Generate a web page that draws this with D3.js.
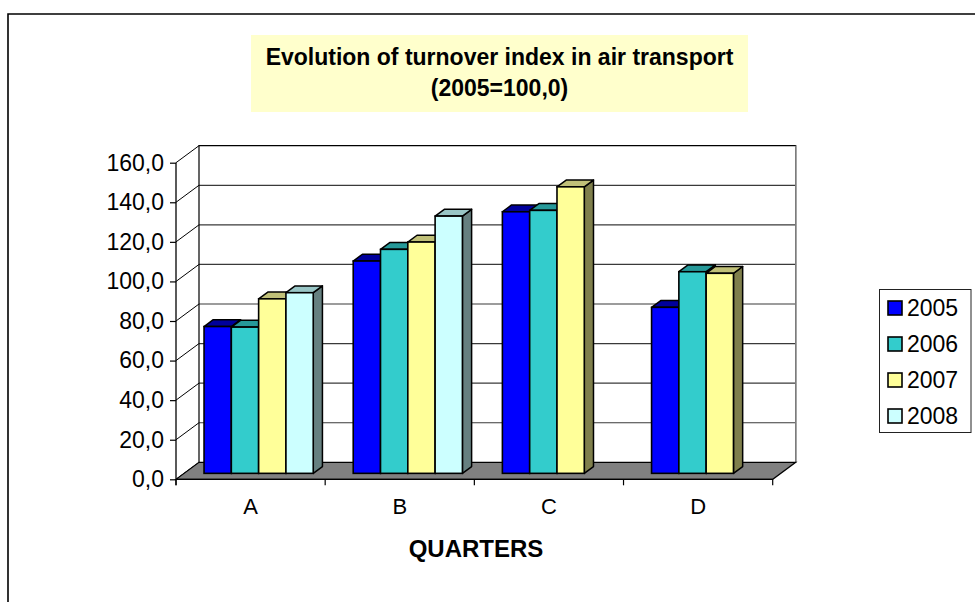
<!DOCTYPE html>
<html>
<head>
<meta charset="utf-8">
<script src="https://cdn.jsdelivr.net/npm/d3@7"></script>
<style>
  html, body { margin: 0; padding: 0; background: #fff; }
  svg { display: block; font-family: "Liberation Sans", Arial, sans-serif; }
</style>
</head>
<body>
<svg id="chart" width="975" height="602"></svg>
<script>
// ---- data ----
const categories = ["A", "B", "C", "D"];
const years = ["2005", "2006", "2007", "2008"];
const v2005 = [74.2, 107.3, 132.2, 83.9];
const v2006 = [73.9, 113.2, 132.9, 101.9];
const v2007 = [88.2, 116.9, 144.8, 101.1];
const v2008 = [91.3, 130.0, null, null];
const yTicks = [0, 20, 40, 60, 80, 100, 120, 140, 160];
const titleLines = ["Evolution of turnover index in air transport", "(2005=100,0)"];
const xTitle = "QUARTERS";

const seriesValues = [v2005, v2006, v2007, v2008];
const colors = {
  "2005": { front: "#0000FF", top: "#00009C", side: "#000080" },
  "2006": { front: "#33CCCC", top: "#269999", side: "#1A6666" },
  "2007": { front: "#FFFF99", top: "#C0C078", side: "#7F7F4C" },
  "2008": { front: "#CCFFFF", top: "#99C6C6", side: "#668080" }
};

const svg = d3.select("#chart");

// ---- geometry ----
const frontLeft = 176, frontRight = 772.7;
const floorY = 479.3, topY = 162.7;
const DX = 23, DY = -17;          // full depth offset
const tBar = 0.35, tDepth = 0.4;  // bar front depth and bar depth (fractions)

const x0 = d3.scaleBand().domain(categories).range([frontLeft, frontRight])
  .paddingInner(0.268).paddingOuter(0.134);
const x1 = d3.scaleBand().domain(years).range([0, x0.bandwidth()]);
const y = d3.scaleLinear().domain([0, 160]).range([floorY, topY]);
const step = x0.step();

// ---- outer border ----
svg.append("path").attr("d", "M8,602 L8,14 L975,14")
  .attr("fill", "none").attr("stroke", "#000").attr("stroke-width", 1.6);

// ---- title ----
svg.append("rect").attr("x", 251).attr("y", 35).attr("width", 497).attr("height", 77)
  .attr("fill", "#FFFFCC");
svg.selectAll("text.title").data(titleLines).join("text")
  .attr("class", "title")
  .attr("x", 499.5).attr("y", (d, i) => 65 + i * 31)
  .attr("text-anchor", "middle")
  .attr("font-weight", "bold").attr("font-size", 23)
  .attr("fill", "#000").text(d => d);

// ---- back wall ----
const bx0 = frontLeft + DX, bx1 = frontRight + DX;
svg.append("rect").attr("x", bx0).attr("y", y(160) + DY).attr("width", bx1 - bx0)
  .attr("height", y(0) - y(160)).attr("fill", "#fff");

// gridlines on back wall
svg.selectAll("line.grid").data(yTicks.filter(d => d > 0 && d < 160)).join("line")
  .attr("class", "grid")
  .attr("x1", bx0).attr("x2", bx1)
  .attr("y1", d => y(d) + DY).attr("y2", d => y(d) + DY)
  .attr("stroke", "#3a3a3a").attr("stroke-width", 1.2);

// diagonal lines on left wall
svg.selectAll("line.diag").data(yTicks).join("line")
  .attr("class", "diag")
  .attr("x1", frontLeft).attr("x2", bx0)
  .attr("y1", d => y(d)).attr("y2", d => y(d) + DY)
  .attr("stroke", "#000").attr("stroke-width", 1);

// back wall outline
svg.append("path")
  .attr("d", `M${bx0},${y(0) + DY} L${bx0},${y(160) + DY} L${bx1},${y(160) + DY} L${bx1},${y(0) + DY}`)
  .attr("fill", "none").attr("stroke", "#000").attr("stroke-width", 1.2);
svg.append("line").attr("x1", bx1).attr("x2", bx1).attr("y1", y(160) + DY).attr("y2", y(0) + DY)
  .attr("stroke", "#888").attr("stroke-width", 1.2);

// ---- floor ----
svg.append("path")
  .attr("d", `M${frontLeft},${floorY} L${frontRight},${floorY} L${bx1},${floorY + DY} L${bx0},${floorY + DY} Z`)
  .attr("fill", "#808080").attr("stroke", "#000").attr("stroke-width", 1.2);

// ---- y axis (front left) ----
const yAxis = d3.axisLeft(y).tickValues(yTicks).tickSizeInner(6).tickSizeOuter(0).tickPadding(6)
  .tickFormat(d => d3.format(".1f")(d).replace(".", ","));
const gy = svg.append("g").attr("transform", `translate(${frontLeft},0)`).call(yAxis);
gy.select(".domain").attr("stroke", "#000").attr("stroke-width", 1.3);
gy.selectAll(".tick line").attr("stroke", "#000").attr("stroke-width", 1.2);
gy.selectAll(".tick text").attr("font-size", 23).attr("fill", "#000")
  .attr("font-family", "'Liberation Sans', Arial, sans-serif");
gy.select(".domain").attr("d", `M0,${y(160)}V${y(0) + 6}`);

// ---- x axis (front bottom) ----
svg.append("line").attr("x1", frontLeft).attr("x2", frontRight).attr("y1", floorY).attr("y2", floorY)
  .attr("stroke", "#000").attr("stroke-width", 1.3);
const catEdges = [frontLeft].concat(categories.map(c => x0(c) - x0.paddingOuter() * step + step));
svg.selectAll("line.xtick").data(catEdges).join("line")
  .attr("class", "xtick")
  .attr("x1", d => d).attr("x2", d => d).attr("y1", floorY).attr("y2", floorY + 6)
  .attr("stroke", "#000").attr("stroke-width", 1.2);
svg.selectAll("text.cat").data(categories).join("text")
  .attr("class", "cat")
  .attr("x", d => x0(d) + x0.bandwidth() / 2).attr("y", 514)
  .attr("text-anchor", "middle").attr("font-size", 22).attr("fill", "#000")
  .text(d => d);
svg.append("text").attr("x", 476).attr("y", 557).attr("text-anchor", "middle")
  .attr("font-size", 24).attr("font-weight", "bold").attr("fill", "#000").text(xTitle);

// ---- bars ----
const ox = DX * tBar, oy = DY * tBar;     // front-face offset
const dx = DX * tDepth, dy = DY * tDepth; // bar depth
const barData = [];
categories.forEach((c, ci) => {
  years.forEach((yr, si) => {
    const v = seriesValues[si][ci];
    if (v != null) barData.push({ c, yr, v });
  });
});
const bw = x1.bandwidth();
const gBars = svg.append("g");
barData.forEach(d => {
  const xl = x0(d.c) + x1(d.yr) + ox;
  const xr = xl + bw;
  const yt = y(d.v) + oy;
  const yb = y(0) + oy;
  const col = colors[d.yr];
  const g = gBars.append("g");
  // side face
  g.append("path")
    .attr("d", `M${xr},${yb} L${xr},${yt} L${xr + dx},${yt + dy} L${xr + dx},${yb + dy} Z`)
    .attr("fill", col.side).attr("stroke", "#000").attr("stroke-width", 1.5).attr("stroke-linejoin", "round");
  // top face
  g.append("path")
    .attr("d", `M${xl},${yt} L${xr},${yt} L${xr + dx},${yt + dy} L${xl + dx},${yt + dy} Z`)
    .attr("fill", col.top).attr("stroke", "#000").attr("stroke-width", 1.5).attr("stroke-linejoin", "round");
  // front face
  g.append("rect").attr("x", xl).attr("y", yt).attr("width", bw).attr("height", yb - yt)
    .attr("fill", col.front).attr("stroke", "#000").attr("stroke-width", 1.6);
});

// ---- legend ----
const lg = svg.append("g");
lg.append("rect").attr("x", 879.5).attr("y", 289.5).attr("width", 91.5).attr("height", 143)
  .attr("fill", "#fff").attr("stroke", "#222").attr("stroke-width", 1);
const li = lg.selectAll("g.item").data(years).join("g").attr("class", "item")
  .attr("transform", (d, i) => `translate(0,${308 + i * 36})`);
li.append("rect").attr("x", 888).attr("y", -7).attr("width", 14).attr("height", 14)
  .attr("fill", d => colors[d].front).attr("stroke", "#000").attr("stroke-width", 1.6);
li.append("text").attr("x", 907).attr("y", 8).attr("font-size", 23).attr("fill", "#000")
  .text(d => d);
</script>
</body>
</html>
